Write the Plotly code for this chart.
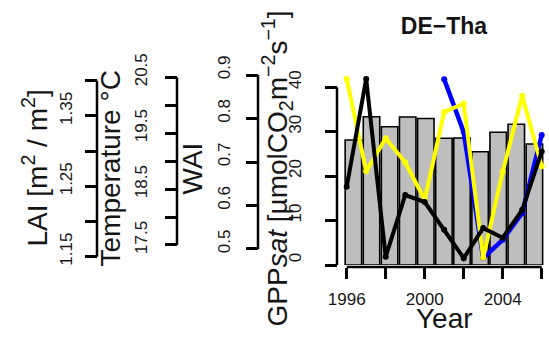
import plotly.graph_objects as go

# ---------------- data ----------------
years = [1996, 1997, 1998, 1999, 2000, 2001, 2002, 2003, 2004, 2005, 2006]
gpp_sat = [28.14, 33.38, 31.13, 33.31, 32.98, 28.52, 28.59, 25.50, 29.87, 31.69, 27.24]
temperature = [20.47, 18.82, 19.41, 18.98, 18.31, 19.88, 20.03, 17.27, 18.81, 20.17, 18.91]
wai = [0.643, 0.891, 0.482, 0.624, 0.608, 0.544, 0.479, 0.548, 0.526, 0.590, 0.724]
lai = [None, None, None, None, None, 1.402, 1.327, 1.148, 1.174, 1.212, 1.323]

lai_ticks = [1.15, 1.20, 1.25, 1.30, 1.35, 1.40]
lai_labels = ["1.15", "", "1.25", "", "1.35", ""]
temp_ticks = [17.5, 18.0, 18.5, 19.0, 19.5, 20.0, 20.5]
temp_labels = ["17.5", "", "18.5", "", "19.5", "", "20.5"]
wai_ticks = [0.5, 0.6, 0.7, 0.8, 0.9]
wai_labels = ["0.5", "0.6", "0.7", "0.8", "0.9"]
gpp_ticks = [0, 10, 20, 30, 40]
gpp_labels = ["0", "10", "20", "30", "40"]
year_ticks = [1996, 1998, 2000, 2002, 2004, 2006]
year_labels = ["1996", "", "2000", "", "2004", ""]

# ---------------- layout geometry ----------------
W, H = 549, 337
PL, PR, PT, PB = 337, 549, 72, 265
xdom = [PL / W, PR / W]
ydom = [1 - PB / H, 1 - PT / H]
FONT = "Liberation Sans, Arial, sans-serif"
TXT = "#151515"

fig = go.Figure()

# bars on base subplot (x, y); lines on overlaying subplots so they draw on top
fig.add_trace(go.Bar(x=years, y=gpp_sat, xaxis="x", yaxis="y",
                     marker=dict(color="#BEBEBE", line=dict(color="black", width=1.6)),
                     width=0.91, showlegend=False))
fig.add_trace(go.Scatter(x=years, y=temperature, xaxis="x2", yaxis="y3", mode="lines+markers",
                         line=dict(color="#FFFF00", width=4), marker=dict(size=6, color="#FFFF00"),
                         showlegend=False))
fig.add_trace(go.Scatter(x=years, y=wai, xaxis="x2", yaxis="y4", mode="lines+markers",
                         line=dict(color="black", width=4), marker=dict(size=6, color="black"),
                         showlegend=False))
fig.add_trace(go.Scatter(x=years, y=lai, xaxis="x2", yaxis="y2", mode="lines+markers",
                         line=dict(color="#0000FF", width=4.5), marker=dict(size=6, color="#0000FF"),
                         showlegend=False))

tickfont = dict(family=FONT, size=17, color=TXT)

def yax(ticks, labels, rng, pos, standoff=10, overlay=True):
    d = dict(range=rng, tickmode="array", tickvals=ticks, ticktext=labels,
             ticks="outside", ticklen=12, tickwidth=2.5, tickcolor="black",
             tickangle=-90, tickfont=tickfont, ticklabelstandoff=standoff,
             ticklabelshift=-5,
             showline=False, showgrid=False, zeroline=False, side="left",
             anchor="free", position=pos)
    if overlay:
        d.update(overlaying="y")
    else:
        d.update(domain=ydom)
    return d

fig.update_layout(
    width=W, height=H, template="none",
    paper_bgcolor="white", plot_bgcolor="rgba(0,0,0,0)",
    margin=dict(l=0, r=0, t=0, b=0),
    showlegend=False,
    xaxis=dict(domain=xdom, range=[1995.094, 2006.807], visible=False,
               anchor="free", position=1 - 267 / H),
    xaxis2=dict(range=[1995.503, 2006.374], overlaying="x", tickmode="array",
                tickvals=year_ticks, ticktext=year_labels, ticks="outside",
                ticklen=11, tickwidth=2.5, tickcolor="black", tickfont=tickfont,
                ticklabelstandoff=6, showline=False, showgrid=False, zeroline=False,
                side="bottom", anchor="free", position=1 - 267 / H),
    yaxis=yax(gpp_ticks, gpp_labels, [0, 43.44], PL / W, standoff=17, overlay=False),
    yaxis2=yax(lai_ticks, lai_labels, [1.1382, 1.4124], 97 / W, standoff=6),
    yaxis3=yax(temp_ticks, temp_labels, [17.142, 20.595], 177 / W, standoff=11),
    yaxis4=yax(wai_ticks, wai_labels, [0.4632, 0.9069], 258 / W, standoff=9),
    title=dict(text="<b>DE−Tha</b>", x=444 / W, y=1 - 26 / H, xanchor="center",
               yanchor="middle", font=dict(family=FONT, size=23, color=TXT)),
)

# R-style axis lines spanning first to last tick
axis_lines = [("y", gpp_ticks, PL / W), ("y2", lai_ticks, 97 / W),
              ("y3", temp_ticks, 177 / W), ("y4", wai_ticks, 258 / W)]
for ref, t, xp in axis_lines:
    fig.add_shape(type="line", xref="paper", yref=ref, x0=xp, x1=xp, y0=min(t), y1=max(t),
                  line=dict(color="black", width=2.5), layer="above")
fig.add_shape(type="line", xref="x2", yref="paper", x0=min(year_ticks), x1=max(year_ticks),
              y0=1 - 267 / H, y1=1 - 267 / H, line=dict(color="black", width=2.5))

titlefont = dict(family=FONT, size=28, color=TXT)
titles = [("LAI [m<sup>2</sup> / m<sup>2</sup>]", 35),
          ("Temperature °C", 110),
          ("WAI", 192),
          ("GPP<i>sat</i> [µmolCO<sub>2</sub>m<sup>−2</sup>s<sup>−1</sup>]", 277)]
for txt, xp in titles:
    fig.add_annotation(text=txt, x=xp / W, y=0.5, xref="paper", yref="paper",
                       textangle=-90, showarrow=False, font=titlefont,
                       xanchor="center", yanchor="middle")
fig.add_annotation(text="Year", x=444.2 / W, y=1 - 318 / H, xref="paper", yref="paper",
                   showarrow=False, font=titlefont, xanchor="center", yanchor="middle")

fig.write_html("out.html", config={"displayModeBar": False},
               post_script="document.body.style.margin='0';document.body.style.overflow='hidden';")
